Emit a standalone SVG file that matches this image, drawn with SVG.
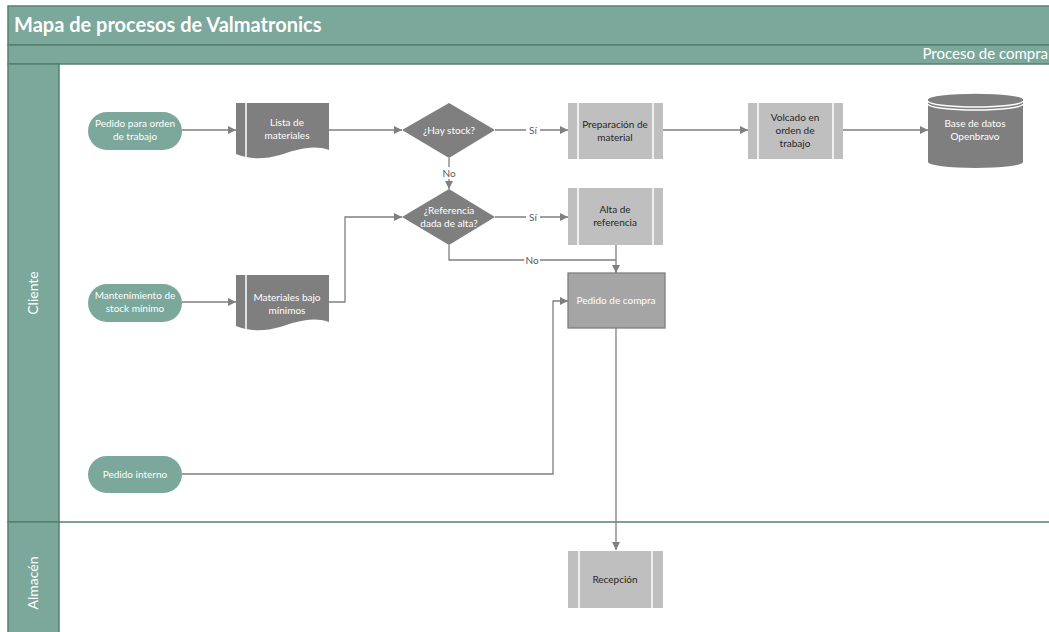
<svg xmlns="http://www.w3.org/2000/svg" width="1049" height="632" viewBox="0 0 1049 632">
  <defs>
    <marker id="arr" viewBox="0 0 10 10" refX="10" refY="5" markerWidth="8" markerHeight="8" markerUnits="userSpaceOnUse" orient="auto">
      <path d="M0,0 L10,5 L0,10 Z" fill="#7f7f7f"/>
    </marker>
    <style>
      .band { fill: #7ba89b; stroke: #55806f; stroke-width: 1.5; }
      .hdr { font-family: Lato, "Open Sans", sans-serif; fill: #ffffff; }
      .term { fill: #7ba89b; }
      .doc { fill: #7f7f7f; }
      .proc { fill: #bfbfbf; }
      .dec { fill: #7f7f7f; }
      .sep { stroke: #ffffff; stroke-width: 1.5; fill: none; }
      .t { font-family: Lato, "Open Sans", sans-serif; font-size: 10px; text-anchor: middle; }
      .w { fill: #ffffff; }
      .d { fill: #262626; }
      .conn { fill: none; stroke: #7f7f7f; stroke-width: 1.3; }
      .lbl { font-family: Lato, "Open Sans", sans-serif; font-size: 10px; fill: #595959; text-anchor: middle; }
      .lblbg { fill: #ffffff; }
    </style>
  </defs>

  <rect width="1049" height="632" fill="#ffffff"/>

  <!-- Pool header and lanes -->
  <g id="pool">
    <rect class="band" x="8" y="6" width="1045" height="39"/>
    <text class="hdr" x="14" y="32" font-size="20" font-weight="bold">Mapa de procesos de Valmatronics</text>
    <rect class="band" x="8" y="45" width="1045" height="19"/>
    <text class="hdr" x="1048" y="59" font-size="15" text-anchor="end">Proceso de compra</text>
  </g>

  <g id="lane-cliente">
    <rect class="band" x="8" y="64" width="51" height="458"/>
    <line x1="59" y1="522" x2="1049" y2="522" stroke="#55806f" stroke-width="1.5"/>
    <text class="hdr" font-size="14" text-anchor="middle" transform="translate(38,293) rotate(-90)">Cliente</text>
  </g>

  <g id="lane-almacen">
    <rect class="band" x="8" y="522" width="51" height="112"/>
    <text class="hdr" font-size="14" text-anchor="middle" transform="translate(38,583) rotate(-90)">Almacén</text>
  </g>

  <!-- Connectors -->
  <g id="connectors">
    <path class="conn" d="M182,130 H236" marker-end="url(#arr)"/>
    <path class="conn" d="M329,130 H402" marker-end="url(#arr)"/>
    <path class="conn" d="M495,130 H568" marker-end="url(#arr)"/>
    <path class="conn" d="M663,130 H748" marker-end="url(#arr)"/>
    <path class="conn" d="M843,130 H928" marker-end="url(#arr)"/>
    <path class="conn" d="M449,158 V189" marker-end="url(#arr)"/>
    <path class="conn" d="M495,217 H568" marker-end="url(#arr)"/>
    <path class="conn" d="M449,245 V260 H616 V273" marker-end="url(#arr)"/>
    <path class="conn" d="M616,245 V260"/>
    <path class="conn" d="M182,302 H236" marker-end="url(#arr)"/>
    <path class="conn" d="M329,302 H345 V217 H402" marker-end="url(#arr)"/>
    <path class="conn" d="M182,474 H553 V301 H568" marker-end="url(#arr)"/>
    <path class="conn" d="M616,328 V550" marker-end="url(#arr)"/>

    <rect class="lblbg" x="526" y="124" width="14" height="12"/>
    <text class="lbl" x="533" y="134">Sí</text>
    <rect class="lblbg" x="441" y="167" width="16" height="12"/>
    <text class="lbl" x="449" y="177">No</text>
    <rect class="lblbg" x="526" y="211" width="14" height="12"/>
    <text class="lbl" x="533" y="221">Sí</text>
    <rect class="lblbg" x="524" y="254" width="16" height="12"/>
    <text class="lbl" x="532" y="264">No</text>
  </g>

  <!-- Nodes -->
  <g id="pedido-orden">
    <rect class="term" x="88" y="112" width="94" height="38" rx="19"/>
    <text class="t w" x="135" y="127">Pedido para orden</text>
    <text class="t w" x="135" y="140">de trabajo</text>
  </g>

  <g id="lista-materiales">
    <path class="doc" d="M236,103 H329 V150 C312,144 296,150 280,155 C266,159 250,160 236,154 Z"/>
    <line class="sep" x1="246" y1="103" x2="246" y2="158"/>
    <text class="t w" x="287" y="126">Lista de</text>
    <text class="t w" x="287" y="139">materiales</text>
  </g>

  <g id="hay-stock">
    <path class="dec" d="M449,103 L495,130 L449,158 L402,130 Z"/>
    <text class="t w" x="449" y="134">¿Hay stock?</text>
  </g>

  <g id="preparacion">
    <rect class="proc" x="568" y="103" width="95" height="56"/>
    <line class="sep" x1="578" y1="103" x2="578" y2="159"/>
    <line class="sep" x1="653" y1="103" x2="653" y2="159"/>
    <text class="t d" x="615" y="128">Preparación de</text>
    <text class="t d" x="615" y="141">material</text>
  </g>

  <g id="volcado">
    <rect class="proc" x="748" y="103" width="95" height="56"/>
    <line class="sep" x1="758" y1="103" x2="758" y2="159"/>
    <line class="sep" x1="833" y1="103" x2="833" y2="159"/>
    <text class="t d" x="795" y="121">Volcado en</text>
    <text class="t d" x="795" y="134">orden de</text>
    <text class="t d" x="795" y="147">trabajo</text>
  </g>

  <g id="base-datos">
    <path class="doc" d="M928,99 A47.5,6 0 0 1 1023,99 V162 A47.5,6 0 0 1 928,162 Z"/>
    <path class="sep" stroke-width="1" d="M928,101 A47.5,6 0 0 0 1023,101"/>
    <path class="sep" stroke-width="1" d="M928,104 A47.5,6 0 0 0 1023,104"/>
    <path class="sep" stroke-width="1" d="M928,99 A47.5,6 0 0 1 1023,99"/>
    <text class="t w" x="975" y="127">Base de datos</text>
    <text class="t w" x="975" y="140">Openbravo</text>
  </g>

  <g id="referencia-alta">
    <path class="dec" d="M449,189 L495,217 L449,245 L402,217 Z"/>
    <text class="t w" x="449" y="214">¿Referencia</text>
    <text class="t w" x="449" y="227">dada de alta?</text>
  </g>

  <g id="alta-referencia">
    <rect class="proc" x="568" y="188" width="95" height="57"/>
    <line class="sep" x1="578" y1="188" x2="578" y2="245"/>
    <line class="sep" x1="653" y1="188" x2="653" y2="245"/>
    <text class="t d" x="615" y="213">Alta de</text>
    <text class="t d" x="615" y="226">referencia</text>
  </g>

  <g id="mantenimiento">
    <rect class="term" x="88" y="284" width="94" height="38" rx="19"/>
    <text class="t w" x="135" y="299">Mantenimiento de</text>
    <text class="t w" x="135" y="312">stock mínimo</text>
  </g>

  <g id="materiales-bajo">
    <path class="doc" d="M236,275 H329 V322 C312,316 296,322 280,327 C266,331 250,332 236,326 Z"/>
    <line class="sep" x1="246" y1="275" x2="246" y2="330"/>
    <text class="t w" x="287" y="301">Materiales bajo</text>
    <text class="t w" x="287" y="314">mínimos</text>
  </g>

  <g id="pedido-compra">
    <rect x="568" y="273" width="97" height="55" fill="#a5a5a5" stroke="#7f7f7f" stroke-width="1.3"/>
    <text class="t w" x="616" y="304">Pedido de compra</text>
  </g>

  <g id="pedido-interno">
    <rect class="term" x="88" y="456" width="94" height="37" rx="18.5"/>
    <text class="t w" x="135" y="478">Pedido interno</text>
  </g>

  <g id="recepcion">
    <rect class="proc" x="568" y="551" width="95" height="57"/>
    <line class="sep" x1="579" y1="551" x2="579" y2="608"/>
    <line class="sep" x1="652" y1="551" x2="652" y2="608"/>
    <text class="t d" x="615" y="583">Recepción</text>
  </g>
</svg>
